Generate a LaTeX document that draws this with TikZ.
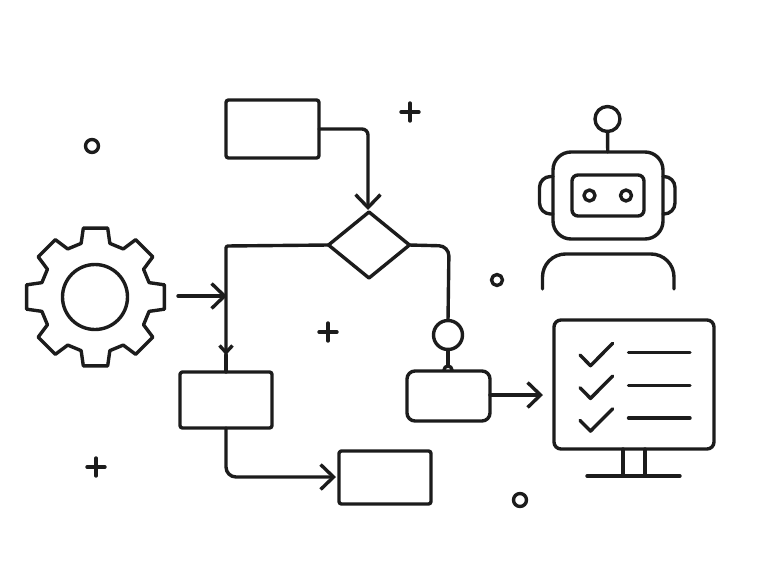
\documentclass[tikz,border=0pt]{standalone}
\usepackage{tikz}
\usetikzlibrary{arrows.meta}
\usetikzlibrary{positioning, calc}
\usetikzlibrary{shapes.geometric}
\definecolor{ink}{HTML}{1C1C1C}
\tikzset{
  line/.style={draw=ink, line width=3.4pt, line cap=round, line join=round},
  flowbox/.style={line, rectangle, rounded corners=2.5pt, inner sep=0pt, outer sep=0pt, fill=white},
  ring/.style={line, circle, inner sep=0pt, outer sep=0pt, fill=white},
  bigtip/.style={-{Straight Barb[length=13pt, width=25pt, line width=3.4pt]}},
  smalltip/.style={-{Straight Barb[length=7pt, width=13pt, line width=3.4pt]}},
}
\begin{document}
\begin{tikzpicture}[x=1pt, y=-1pt]
  \useasboundingbox (0,0) rectangle (768,584);

  % --- Ingranaggio ---
  \draw[line, shift={(95.5,297)}] (-15:55.5)
    \foreach \a in {0,45,...,315} {
      -- ({\a-15}:55.5) -- ({\a-10}:70) -- ({\a+10}:70) -- ({\a+15}:55.5)
    } -- cycle;
  \draw[line] (95,297) circle (32.5);

  % --- Blocchi ---
  \node[flowbox, minimum width=93pt, minimum height=58pt] (start) at (272.5,129) {};
  \node[line, diamond, inner sep=0pt, outer sep=0pt, minimum width=81pt, minimum height=66pt] (choice) at (369,245) {};
  \node[flowbox, minimum width=92pt, minimum height=56pt] (left) at (226,400) {};
  \node[flowbox, minimum width=92pt, minimum height=53pt] (final) at (385,477.5) {};
  \node[ring, minimum size=29pt] (junction) at (448,335) {};
  \node[ring, minimum size=8pt] (socket) at (448,370) {};
  \node[flowbox, rounded corners=8pt, minimum width=83pt, minimum height=50pt] (right) at (448.5,396) {};

  % --- Collegamenti ---
  \coordinate (entry) at (178,296);
  \coordinate (entrytip) at (227,296);
  \coordinate (lefttip) at (226,355);
  \coordinate (righttip) at (543,395);
  \draw[line, bigtip, rounded corners=6pt] (start.east) -- (368,129) -- (368,210);
  \draw[line, rounded corners=2pt] (choice.west) -- (226,246) -- (lefttip);
  \draw[line, smalltip] ($(lefttip)+(0,-5)$) -- (lefttip);
  \draw[line] (lefttip) -- (left.north);
  \draw[line, bigtip] (entry) -- (entrytip);
  \draw[line, rounded corners=10pt] (choice.east) -- (449,246) -- (junction.north);
  \draw[line] (junction) -- (socket);
  \draw[line, bigtip, rounded corners=10pt] (left.south) -- (226,477) -- (336,477);
  \draw[line, bigtip] (right.east |- righttip) -- (righttip);

  % --- Robot ---
  \node[ring, minimum size=25pt] (antenna) at (607.5,119) {};
  \node[flowbox, rounded corners=18pt, minimum width=110pt, minimum height=87pt] (head) at (608,195.5) {};
  \node[flowbox, rounded corners=6pt, minimum width=72pt, minimum height=41pt] (visor) at (608,195.5) {};
  \node[ring, minimum size=11pt] (eyeL) at (589.5,195.5) {};
  \node[ring, minimum size=11pt] (eyeR) at (626,195.5) {};
  \draw[line] (antenna) -- (head);
  \draw[line, rounded corners=11pt] (553,176.5) -- (539.5,176.5) -- (539.5,214) -- (553,214);
  \draw[line, rounded corners=11pt] (663,176.5) -- (675,176.5) -- (675,214) -- (663,214);
  \draw[line, rounded corners=23pt] (542.5,289) -- (542.5,254) -- (674,254) -- (674,289);

  % --- Monitor ---
  \node[flowbox, rounded corners=7pt, minimum width=160pt, minimum height=129pt] (screen) at (634,384.5) {};
  \foreach \y in {0,32.7,65.4} {
    \draw[line] (580,355+\y) -- (590.5,365.7+\y) -- (612.7,343.3+\y);
    \draw[line] (628.5,352.7+\y) -- (690,352.7+\y);
  }
  \draw[line] (623,449) -- (623,476);
  \draw[line] (645,449) -- (645,476);
  \draw[line] (587,476) -- (680,476);

  % --- Decorazioni ---
  \draw[line] (92,146) circle (6.5);
  \draw[line] (497,280) circle (5.5);
  \draw[line] (520,500) circle (6.5);
  \foreach \x/\y in {410/112, 328/332, 96/467} {
    \draw[line] (\x-9,\y) -- (\x+9,\y);
    \draw[line] (\x,\y-9) -- (\x,\y+9);
  }

\end{tikzpicture}
\end{document}
